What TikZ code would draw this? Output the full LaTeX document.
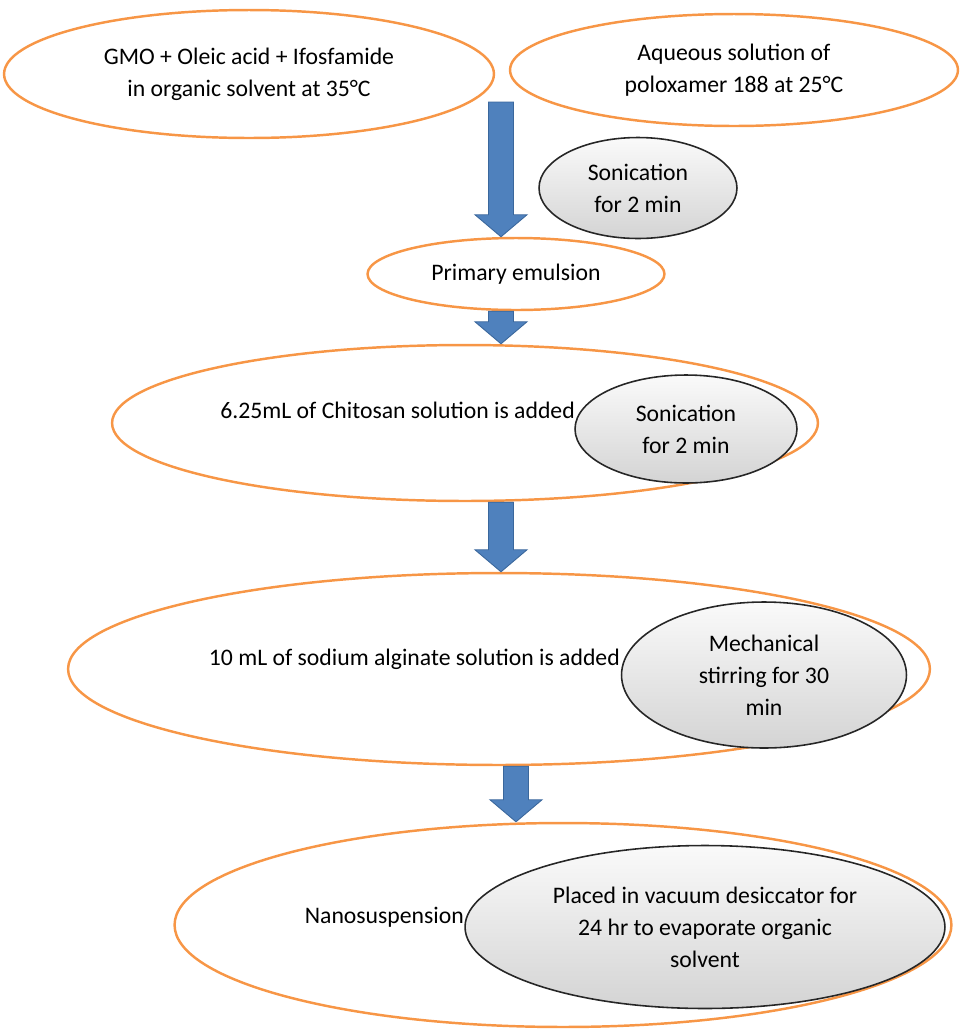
\documentclass[tikz,border=0pt]{standalone}
\usepackage{fontspec}
\setmainfont{Carlito}
\usetikzlibrary{shapes.geometric, calc}

\definecolor{stepor}{HTML}{F79646}
\definecolor{arrblue}{HTML}{4F81BD}
\definecolor{arredge}{HTML}{3A679C}

% block arrow from #1 down to #2 (tip)
\newcommand{\flowarrow}[2]{%
  \path[blockarr] let \p1=(#1), \p2=(#2) in
    (\x2-0.25cm,\y1) -- (\x2+0.25cm,\y1) -- (\x2+0.25cm,\y2+0.44cm)
    -- (\x2+0.52cm,\y2+0.44cm) -- (\x2,\y2) -- (\x2-0.52cm,\y2+0.44cm)
    -- (\x2-0.25cm,\y2+0.44cm) -- cycle;}

\begin{document}
\begin{tikzpicture}[x=0.02cm, y=-0.02cm,
  every node/.style={font=\fontsize{13.5}{18.2}\selectfont},
  stepbox/.style={ellipse, draw=stepor, line width=1.4pt, inner sep=0pt, align=center},
  procbox/.style={ellipse, draw=black!85, line width=0.9pt, top color=gray!4,
    bottom color=gray!34, inner sep=0pt, align=center},
  blockarr/.style={fill=arrblue, draw=arredge, line width=0.5pt}]
  \useasboundingbox (0,0) rectangle (961,1032);

  % starting phases
  \node[stepbox, minimum width=9.8cm, minimum height=2.56cm] (org) at (249,74)
    {GMO + Oleic acid + Ifosfamide\\in organic solvent at 35°C};
  \node[stepbox, minimum width=8.96cm, minimum height=2.24cm] (aq) at (734,70)
    {Aqueous solution of\\poloxamer 188 at 25°C};
  \node[stepbox, minimum width=5.94cm, minimum height=1.44cm] (prim) at (516,274)
    {Primary emulsion};
  \node[stepbox, minimum width=14.12cm, minimum height=3.12cm] (chit) at (465,423) {};
  \node[stepbox, minimum width=17.24cm, minimum height=3.84cm] (alg) at (499,669) {};
  \node[stepbox, minimum width=15.54cm, minimum height=4.08cm] (nano) at (563,925) {};

  % arrows
  \coordinate (a1) at (501,102);
  \coordinate (a4) at (516,768);
  \flowarrow{a1}{prim.north -| a1}
  \flowarrow{prim.south -| a1}{chit.north -| a1}
  \flowarrow{chit.south -| a1}{alg.north -| a1}
  \flowarrow{alg.south -| a4}{nano.north -| a4}

  % process steps
  \node[procbox, minimum width=3.96cm, minimum height=2.02cm] (son1) at (638,188)
    {Sonication\\for 2 min};
  \node[procbox, minimum width=4.44cm, minimum height=2.16cm] (son2) at (686,429)
    {Sonication\\for 2 min};
  \node[procbox, minimum width=5.7cm, minimum height=2.92cm] (stir) at (764,675)
    {Mechanical\\stirring for 30\\min};
  \node[procbox, minimum width=9.6cm, minimum height=3.26cm] (vac) at (705,927)
    {Placed in vacuum desiccator for\\24 hr to evaporate organic\\solvent};

  \node[anchor=east, inner sep=1pt] (chittxt) at (577,410) {6.25mL of Chitosan solution is added};
  \node[anchor=east, inner sep=1pt] (algtxt) at (622,659) {10 mL of sodium alginate solution is added};
  \node[anchor=east, inner sep=1pt] (nanotxt) at (466,917) {Nanosuspension};
\end{tikzpicture}
\end{document}
